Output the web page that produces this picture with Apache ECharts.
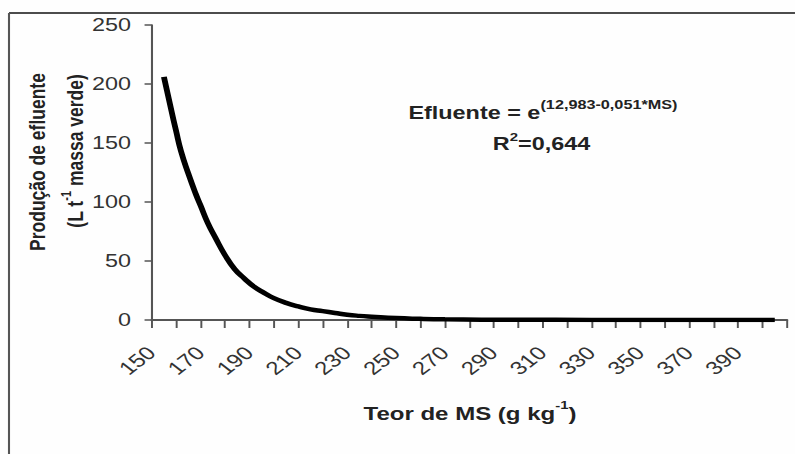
<!DOCTYPE html>
<html>
<head>
<meta charset="utf-8">
<script src="https://cdn.jsdelivr.net/npm/echarts@6/dist/echarts.min.js"></script>
<style>
html,body{margin:0;padding:0;background:#fefefe;overflow:hidden;width:795px;height:454px;}
#c{width:612px;height:454px;transform:scaleX(1.299);transform-origin:0 0;}
</style>
</head>
<body>
<div id="c"></div>
<script>
// Data
const teorMS = [155, 158, 160, 162, 165, 168, 170, 173, 176, 180, 184, 188, 192, 196, 200, 205, 210, 215, 220, 225, 230, 235, 240, 250, 260, 270, 285, 300, 330, 360, 405];
const efluente = [206, 178, 160, 143, 124, 107, 97, 82, 70, 55, 43, 35, 28, 23, 18.5, 14.5, 11.5, 9, 7.5, 6, 4.5, 3.5, 2.8, 1.6, 1, 0.6, 0.3, 0.2, 0.1, 0, 0];
const xTickLabels = [150, 170, 190, 210, 230, 250, 270, 290, 310, 330, 350, 370, 390];
const yTickLabels = [0, 50, 100, 150, 200, 250];

const S = 1.299; // horizontal stretch of the reference image
const FONT = '"Liberation Sans", Arial, sans-serif';
const chart = echarts.init(document.getElementById('c'), null, {renderer: 'svg'});

const option = {
  backgroundColor: '#fefefe',
  animation: false,
  grid: {left: 151.7 / S, right: 612 - 787 / S, top: 25, bottom: 134, containLabel: false},
  xAxis: {
    type: 'value', min: 150, max: 410, interval: 10,
    splitLine: {show: false},
    axisLine: {onZero: false, lineStyle: {color: '#555', width: 2}},
    axisTick: {show: true, length: 8, lineStyle: {color: '#555', width: 1.5}},
    axisLabel: {
      rotate: 45, margin: 30, fontSize: 18.5, color: '#333', fontFamily: FONT,
      formatter: v => xTickLabels.indexOf(v) >= 0 ? String(v) : ''
    }
  },
  yAxis: {
    type: 'value', min: yTickLabels[0], max: yTickLabels[yTickLabels.length - 1], interval: 50,
    splitLine: {show: false},
    axisLine: {show: true, lineStyle: {color: '#555', width: 1.6}},
    axisTick: {show: true, length: 5.5, lineStyle: {color: '#555', width: 1.5}},
    axisLabel: {margin: 16, fontSize: 18, color: '#333', fontFamily: FONT}
  },
  series: [{
    type: 'line',
    data: teorMS.map((x, i) => [x, efluente[i]]),
    smooth: true,
    showSymbol: false,
    lineStyle: {color: '#000', width: 4.5},
    z: 5
  }],
  graphic: [
    {type: 'line', shape: {x1: 9 / S, y1: 13, x2: 612, y2: 13}, style: {stroke: '#111', lineWidth: 1.4}},
    {type: 'line', shape: {x1: 9 / S, y1: 13, x2: 9 / S, y2: 454}, style: {stroke: '#555', lineWidth: 1.6}},
    {
      type: 'text', x: 37 / S, y: 162, rotation: Math.PI / 2,
      style: {text: 'Produção de efluente', font: 'bold 17.5px ' + FONT, fill: '#222', align: 'center', verticalAlign: 'middle'}
    },
    {
      type: 'text', x: 73 / S, y: 151, rotation: Math.PI / 2,
      style: {
        text: '{a|(L t}{s|-1}{a| massa verde)}', align: 'center', verticalAlign: 'middle', fill: '#222',
        rich: {
          a: {fontSize: 17.5, fontWeight: 'bold', fontFamily: FONT, fill: '#222', lineHeight: 22, verticalAlign: 'bottom'},
          s: {fontSize: 11, fontWeight: 'bold', fontFamily: FONT, fill: '#222', lineHeight: 22, verticalAlign: 'top'}
        }
      }
    },
    {
      type: 'text', x: 470 / S, y: 411,
      style: {
        text: '{a|Teor de MS (g kg}{s|-1}{a|)}', align: 'center', verticalAlign: 'middle', fill: '#222',
        rich: {
          a: {fontSize: 18.5, fontWeight: 'bold', fontFamily: FONT, fill: '#222', lineHeight: 24, verticalAlign: 'bottom'},
          s: {fontSize: 11.5, fontWeight: 'bold', fontFamily: FONT, fill: '#222', lineHeight: 24, verticalAlign: 'top'}
        }
      }
    },
    {
      type: 'text', x: 543 / S, y: 110,
      style: {
        text: '{a|Efluente = e}{s|(12,983-0,051*MS)}', align: 'center', verticalAlign: 'middle', fill: '#222',
        rich: {
          a: {fontSize: 18, fontWeight: 'bold', fontFamily: FONT, fill: '#222', lineHeight: 24, verticalAlign: 'bottom'},
          s: {fontSize: 12.5, fontWeight: 'bold', fontFamily: FONT, fill: '#222', lineHeight: 24, verticalAlign: 'top'}
        }
      }
    },
    {
      type: 'text', x: 541.5 / S, y: 142,
      style: {
        text: '{a|R}{s|2}{a|=0,644}', align: 'center', verticalAlign: 'middle', fill: '#222',
        rich: {
          a: {fontSize: 18, fontWeight: 'bold', fontFamily: FONT, fill: '#222', lineHeight: 22, verticalAlign: 'bottom'},
          s: {fontSize: 11.5, fontWeight: 'bold', fontFamily: FONT, fill: '#222', lineHeight: 22, verticalAlign: 'top'}
        }
      }
    }
  ]
};
chart.setOption(option);
</script>
</body>
</html>
